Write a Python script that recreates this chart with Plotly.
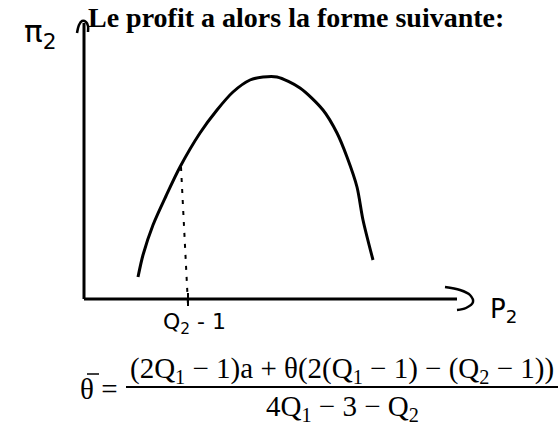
import plotly.graph_objects as go

# Profit curve pi2(P2), hand-sketched hump (arbitrary units, origin at the axes corner)
P2 = [5.4, 5.9, 6.9, 8.2, 9.6, 11.6, 13.3, 14.9, 16.6, 17.9, 19.3, 21.6, 23.9, 25.3, 26.3, 27.3, 27.9, 28.9]
PI2 = [2.2, 4.4, 7.4, 10.3, 13.2, 16.6, 18.9, 20.7, 21.9, 22.2, 22.2, 21.1, 18.9, 16.6, 14.2, 11.2, 7.9, 3.9]

# Marked price on the P2 axis (P2 = Q2 - 1) and the dotted drop from the curve
KINK_P = 10.4
DROP_TOP = (9.7, 13.2)

# Axis extents
X_END = 37.3
Y_END = 27.6

W, H = 558, 426
X_RANGE = [-8.4, 47.4]
Y_RANGE = [-12.7, 29.9]

INK = "#000000"
SERIF = "Liberation Serif, Times New Roman, serif"
HAND = "DejaVu Sans, sans-serif"


def px(x):
    return x / W


def py(y):
    return 1 - y / H


fig = go.Figure()

# Axes drawn as ink strokes
fig.add_trace(go.Scatter(x=[0, 0], y=[Y_END, 0], mode="lines",
                         line=dict(color=INK, width=3), hoverinfo="skip"))
fig.add_trace(go.Scatter(x=[0, X_END], y=[0, 0], mode="lines",
                         line=dict(color=INK, width=3), hoverinfo="skip"))

# Hand-drawn arrow heads
up_dx = [-0.7, -0.5, -0.2, 0.2, 0.4, 0.4]
up_dy = [-1.0, -0.2, 0.2, 0.1, -0.3, -0.9]
fig.add_trace(go.Scatter(x=up_dx, y=[Y_END + d for d in up_dy],
                         mode="lines", line=dict(color=INK, width=2.5, shape="spline"),
                         hoverinfo="skip"))
rt_dx = [-1.2, 0.3, 1.3, 1.6, 0.9, 0.0]
rt_dy = [1.2, 0.9, 0.4, -0.3, -0.9, -1.1]
fig.add_trace(go.Scatter(x=[X_END + d for d in rt_dx], y=rt_dy,
                         mode="lines", line=dict(color=INK, width=2.5, shape="spline"),
                         hoverinfo="skip"))

# Tick mark at the marked price
fig.add_trace(go.Scatter(x=[KINK_P, KINK_P], y=[0.6, -0.7], mode="lines",
                         line=dict(color=INK, width=2), hoverinfo="skip"))

# Dotted drop line from the curve to the tick
fig.add_trace(go.Scatter(x=[DROP_TOP[0], KINK_P], y=[DROP_TOP[1], -0.6], mode="lines",
                         line=dict(color=INK, width=2, dash="4px,7px"), hoverinfo="skip"))

# Profit curve
fig.add_trace(go.Scatter(x=P2, y=PI2, mode="lines",
                         line=dict(color=INK, width=3, shape="spline", smoothing=0.8),
                         hoverinfo="skip"))

annotations = [
    dict(text="<b>Le profit a alors la forme suivante:</b>", x=px(86), y=py(17),
         xanchor="left", yanchor="middle", font=dict(family=SERIF, size=28, color=INK)),
    dict(text="π<sub>2</sub>", x=px(40), y=py(33), xanchor="center", yanchor="middle",
         font=dict(family=HAND, size=31, color=INK)),
    dict(text="P<sub>2</sub>", x=px(503), y=py(310), xanchor="center", yanchor="middle",
         font=dict(family=HAND, size=26, color=INK)),
    dict(text="Q<sub>2</sub> - 1", x=px(194), y=py(323), xanchor="center", yanchor="middle",
         font=dict(family=HAND, size=22, color=INK)),
    dict(text="(2Q<sub>1</sub> − 1)a + θ(2(Q<sub>1</sub> − 1) − (Q<sub>2</sub> − 1))",
         x=px(342), y=py(370), xanchor="center", yanchor="middle",
         font=dict(family=SERIF, size=29, color=INK)),
    dict(text="4Q<sub>1</sub> − 3 − Q<sub>2</sub>", x=px(342), y=py(408),
         xanchor="center", yanchor="middle", font=dict(family=SERIF, size=29, color=INK)),
    dict(text="θ =", x=px(120), y=py(389), xanchor="right", yanchor="middle",
         font=dict(family=SERIF, size=29, color=INK)),
]
for a in annotations:
    a.update(xref="paper", yref="paper", showarrow=False)

fig.update_layout(
    width=W, height=H,
    margin=dict(l=0, r=0, t=0, b=0),
    paper_bgcolor="white", plot_bgcolor="white",
    showlegend=False,
    xaxis=dict(range=X_RANGE, visible=False, fixedrange=True),
    yaxis=dict(range=Y_RANGE, visible=False, fixedrange=True),
    annotations=annotations,
    shapes=[
        # fraction bar
        dict(type="line", xref="paper", yref="paper",
             x0=px(126), x1=px(558), y0=py(387), y1=py(387),
             line=dict(color=INK, width=2)),
        # bar over theta
        dict(type="line", xref="paper", yref="paper",
             x0=px(87), x1=px(99), y0=py(374), y1=py(374),
             line=dict(color=INK, width=1.5)),
    ],
)

fig.write_html("out.html")
